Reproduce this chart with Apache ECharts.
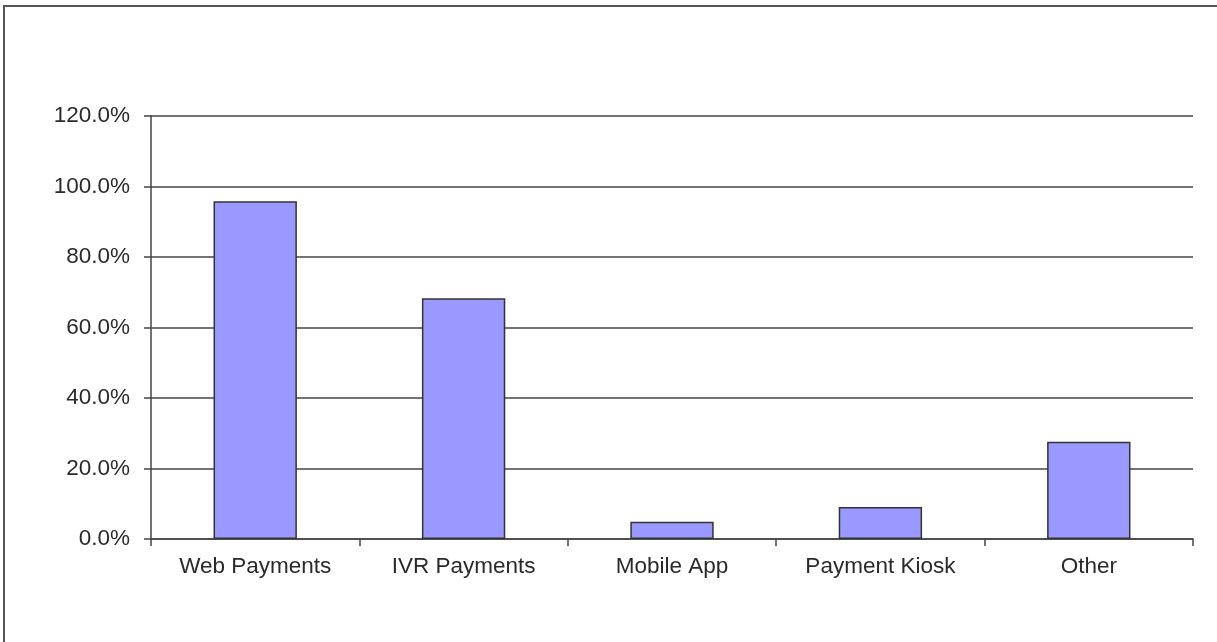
<!DOCTYPE html>
<html>
<head>
<meta charset="utf-8">
<script src="https://cdn.jsdelivr.net/npm/echarts@6/dist/echarts.min.js"></script>
<style>
  html, body { margin: 0; padding: 0; background: #fff; }
  #chart { width: 1217px; height: 642px; }
</style>
</head>
<body>
<div id="chart"></div>
<script>
// 类别和数据
var categories = ['Web Payments', 'IVR Payments', 'Mobile App', 'Payment Kiosk', 'Other'];
var values = [95.8, 68.3, 4.9, 9.1, 27.6];
var yTicks = { min: 0, max: 120, interval: 20 };

var chart = echarts.init(document.getElementById('chart'));

var option = {
  animation: false,
  backgroundColor: '#fff',
  // 外框
  graphic: [{
    type: 'rect',
    shape: { x: 4, y: 6, width: 1400, height: 900 },
    style: { fill: 'none', stroke: '#555', lineWidth: 2 },
    silent: true
  }],
  grid: { left: 151, right: 24, top: 116, bottom: 103 },
  xAxis: {
    type: 'category',
    data: categories,
    axisLine: { lineStyle: { color: '#444', width: 1.5 } },
    axisTick: { show: true, length: 7, lineStyle: { color: '#444', width: 1.5 } },
    axisLabel: {
      color: '#2a2a2a', fontFamily: 'Liberation Sans, Arial, sans-serif',
      fontSize: 22.5, margin: 16
    }
  },
  yAxis: {
    type: 'value',
    min: yTicks.min,
    max: yTicks.max,
    interval: yTicks.interval,
    axisLine: { show: true, lineStyle: { color: '#444', width: 1.5 } },
    axisTick: { show: true, length: 7, lineStyle: { color: '#444', width: 1.5 } },
    splitLine: { show: true, lineStyle: { color: '#444', width: 1.5 } },
    axisLabel: {
      color: '#2a2a2a', fontFamily: 'Liberation Sans, Arial, sans-serif',
      fontSize: 22.5, margin: 21,
      formatter: function (v) { return v.toFixed(1) + '%'; }
    }
  },
  series: [{
    type: 'bar',
    data: values,
    barCategoryGap: '60%',
    itemStyle: { color: '#9999ff', borderColor: '#333', borderWidth: 1.5 }
  }]
};

chart.setOption(option);
</script>
</body>
</html>
